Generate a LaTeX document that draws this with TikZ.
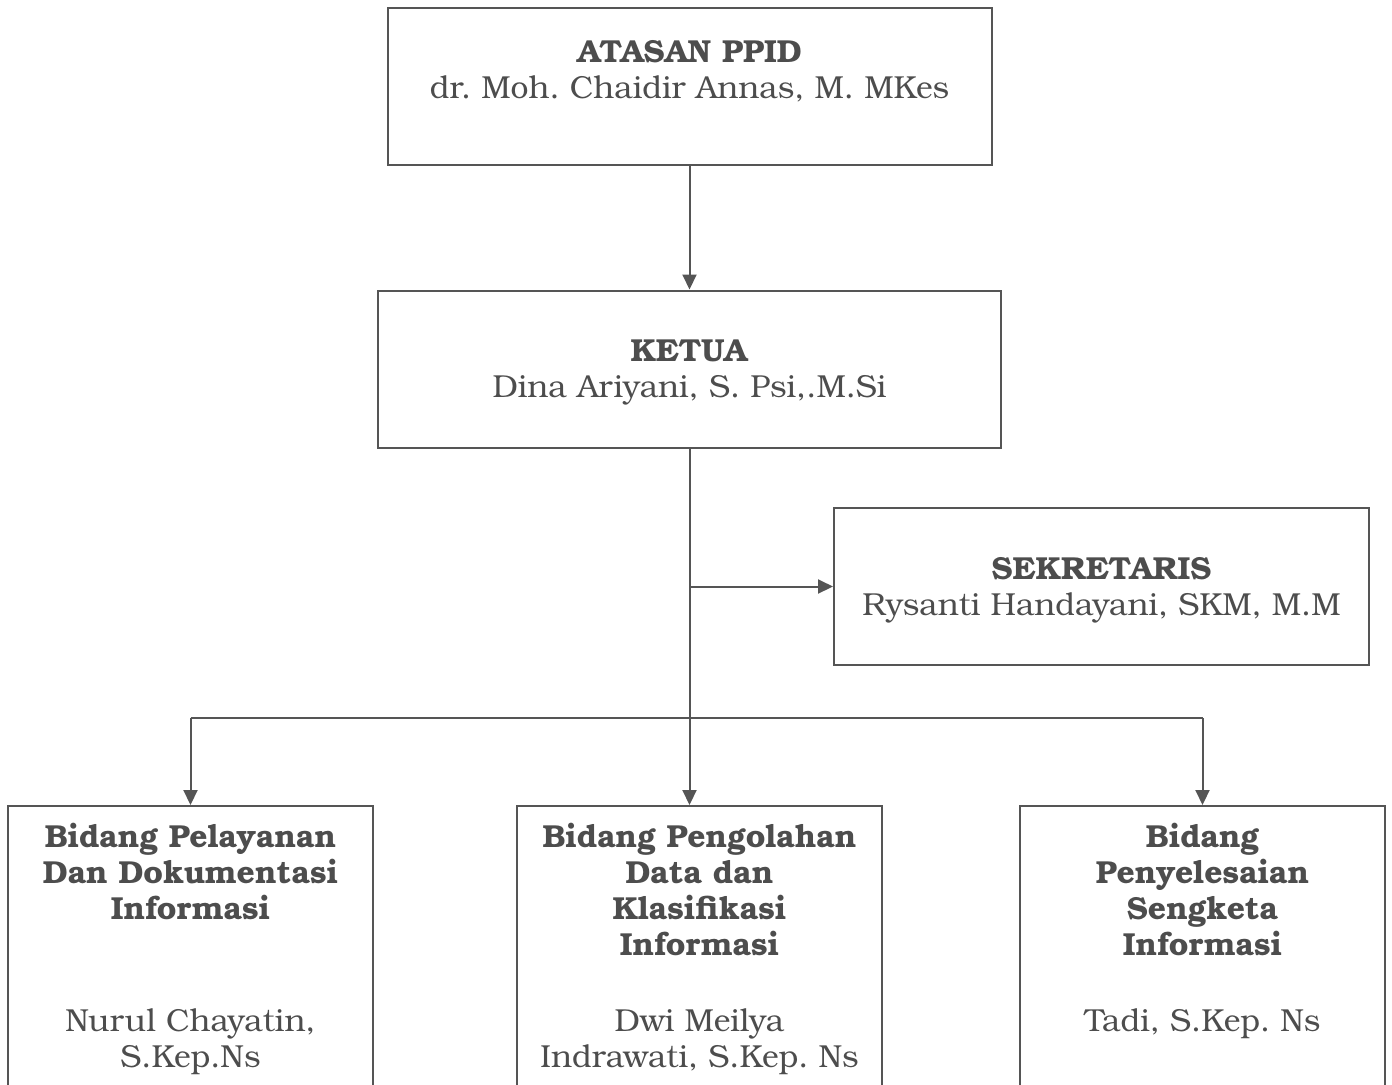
\documentclass[tikz,border=0pt]{standalone}
\usepackage{fontspec}
\setmainfont{texgyrebonum}[Extension=.otf, UprightFont=*-regular, BoldFont=*-bold, ItalicFont=*-italic, BoldItalicFont=*-bolditalic]
\usetikzlibrary{positioning, arrows.meta}
\definecolor{garis}{HTML}{555555}
\definecolor{tinta}{HTML}{4D4D4D}
\frenchspacing

\begin{document}
\begin{tikzpicture}[x=0.5pt, y=-0.5pt,
		font=\fontsize{15.9}{18}\selectfont,
		kotak/.style={draw=garis, line width=1pt, inner sep=0pt, minimum height=78.5pt},
		isi/.style={align=center, text=tinta, inner sep=0pt},
		judul/.style={isi, font=\fontsize{15.9}{18}\selectfont\bfseries},
		panah/.style={draw=garis, line width=1pt, -{Triangle[length=7.5pt, width=7pt]}}]
		\useasboundingbox (0,0) rectangle (1392,1084);
		% kotak
		\node[kotak, minimum width=302pt](atasan)at(689.5, 86.5){};
		\node[kotak, minimum width=311.5pt](ketua)at(689.5, 369){};
		\node[kotak, minimum width=267.5pt](sekretaris)at(1101.5, 586.5){};
		\node[kotak, minimum width=182.5pt, minimum height=150pt, anchor=north](pelayanan)at(190.5, 805){};
		\node[kotak, minimum width=182.5pt, minimum height=150pt, anchor=north](pengolahan)at(699.5, 805){};
		\node[kotak, minimum width=182.5pt, minimum height=150pt, anchor=north](penyelesaian)at(1202.5, 805){};
		% isi kotak
		\node[isi, below=16.5pt of atasan.north](atasanisi){\textbf{ATASAN PPID}\\dr. Moh. Chaidir Annas, M. MKes};
		\node[isi, below=25pt of ketua.north](ketuaisi){\textbf{KETUA}\\Dina Ariyani, S. Psi,.M.Si};
		\node[isi, below=25pt of sekretaris.north](sekretarisisi){\textbf{SEKRETARIS}\\Rysanti Handayani, SKM, M.M};
		\node[judul, below=9pt of pelayanan.north](pelayananjudul){Bidang Pelayanan\\Dan Dokumentasi\\Informasi};
		\node[isi, below=101.5pt of pelayanan.north](pelayanannama){Nurul Chayatin,\\S.Kep.Ns};
		\node[judul, below=9pt of pengolahan.north](pengolahanjudul){Bidang Pengolahan\\Data dan\\Klasifikasi\\Informasi};
		\node[isi, below=101.5pt of pengolahan.north](pengolahannama){Dwi Meilya\\Indrawati, S.Kep. Ns};
		\node[judul, below=9pt of penyelesaian.north](penyelesaianjudul){Bidang\\Penyelesaian\\Sengketa\\Informasi};
		\node[isi, below=101.5pt of penyelesaian.north](penyelesaiannama){Tadi, S.Kep. Ns};
		% garis
		\coordinate(bagi)at(689.5, 718);
		\draw[panah](atasan.south)--(atasan.south |- ketua.north);
		\draw[panah](ketua.south)--(ketua.south |- pengolahan.north);
		\draw[panah](ketua.south |- sekretaris.west)--(sekretaris.west);
		\draw[garis, line width=1pt](pelayanan.north |- bagi)--(penyelesaian.north |- bagi);
		\draw[panah](pelayanan.north |- bagi)--(pelayanan.north);
		\draw[panah](penyelesaian.north |- bagi)--(penyelesaian.north);
	\end{tikzpicture}
\end{document}
